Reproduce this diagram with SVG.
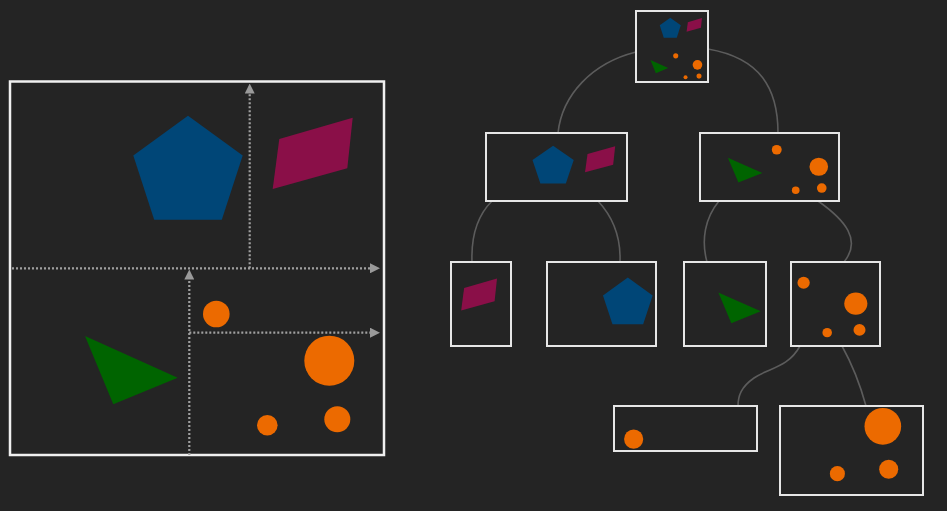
<svg xmlns="http://www.w3.org/2000/svg" xmlns:xlink="http://www.w3.org/1999/xlink" width="947" height="511" viewBox="0 0 947 511">
<style>
.bg{fill:#242424}
.box{fill:none;stroke:#e6e6e6;stroke-width:2}
.panel{fill:none;stroke:#f0f0f0;stroke-width:2.5}
.dot{fill:none;stroke:#a0a0a0;stroke-width:2.2;stroke-dasharray:2 2}
.edge{fill:none;stroke:#5c5c5c;stroke-width:1.6}
.pent{fill:#004677}
.para{fill:#8a0f48}
.tri{fill:#006400}
.circ{fill:#ec6a00}
</style>
<defs>
<marker id="ah" viewBox="0 0 10 10" refX="0" refY="5" markerWidth="10" markerHeight="10" markerUnits="userSpaceOnUse" orient="auto">
<path d="M0,0 L10,5 L0,10 Z" fill="#9a9a9a"/>
</marker>
<polygon id="pent" class="pent" points="188,115.7 242.7,155.4 221.8,219.7 154.2,219.7 133.3,155.4"/>
<polygon id="para" class="para" points="279.3,139 352.7,117.7 347.3,168.3 272.7,189"/>
<polygon id="tri" class="tri" points="85,336 177.7,377.7 113.3,404.3"/>
<circle id="c1" class="circ" cx="216.3" cy="314" r="13.3"/>
<circle id="c2" class="circ" cx="329.3" cy="360.7" r="25"/>
<circle id="c3" class="circ" cx="337.3" cy="419.3" r="13"/>
<circle id="c4" class="circ" cx="267.3" cy="425.3" r="10.3"/>
</defs>
<rect class="bg" x="0" y="0" width="947" height="511"/>

<g id="space">
<rect class="panel" x="10" y="81.5" width="374" height="373.5"/>
<use href="#pent"/><use href="#para"/><use href="#tri"/>
<use href="#c1"/><use href="#c2"/><use href="#c3"/><use href="#c4"/>
<path class="dot" d="M12,268.3 H370" marker-end="url(#ah)"/>
<path class="dot" d="M249.7,268.3 V93.5" marker-end="url(#ah)"/>
<path class="dot" d="M189.3,455 V279.5" marker-end="url(#ah)"/>
<path class="dot" d="M189.3,332.7 H370" marker-end="url(#ah)"/>
</g>

<g id="connectors">
<path class="edge" d="M636,52 C592,63 562,95 558,133"/>
<path class="edge" d="M708,49 C760,58 778,88 778,133"/>
<path class="edge" d="M492,201 C478,215 471,236 472,262"/>
<path class="edge" d="M598,201 C612,216 621,236 620,262"/>
<path class="edge" d="M719,201 C705,218 701,240 707,262"/>
<path class="edge" d="M818,201 C845,220 862,240 844,262"/>
<path class="edge" d="M800,346 C788,368 768,368 754,378 C741,387 738,396 738,406"/>
<path class="edge" d="M842,346 C852,364 860,384 866,406"/>
</g>

<g id="root">
<g transform="translate(636,11) scale(0.1925) translate(-10,-81)">
<use href="#pent"/><use href="#para"/><use href="#tri"/>
<use href="#c1"/><use href="#c2"/><use href="#c3"/><use href="#c4"/>
</g>
<rect class="box" x="636" y="11" width="72" height="71"/>
</g>

<g id="n-top">
<g transform="translate(486,133) scale(0.377,0.364) translate(-10,-81)">
<use href="#pent"/><use href="#para"/>
</g>
<rect class="box" x="486" y="133" width="141" height="68"/>
</g>

<g id="n-bottom">
<g transform="translate(700,133) scale(0.372,0.364) translate(-10,-268)">
<use href="#tri"/><use href="#c1"/><use href="#c2"/><use href="#c3"/><use href="#c4"/>
</g>
<rect class="box" x="700" y="133" width="139" height="68"/>
</g>

<g id="n-tr">
<g transform="translate(451,262) scale(0.448,0.449) translate(-250,-81)">
<use href="#para"/>
</g>
<rect class="box" x="451" y="262" width="60" height="84"/>
</g>

<g id="n-tl">
<g transform="translate(547,262) scale(0.454,0.449) translate(-10,-81)">
<use href="#pent"/>
</g>
<rect class="box" x="547" y="262" width="109" height="84"/>
</g>

<g id="n-bl">
<g transform="translate(684,262) scale(0.458,0.449) translate(-10,-268)">
<use href="#tri"/>
</g>
<rect class="box" x="684" y="262" width="82" height="84"/>
</g>

<g id="n-br">
<g transform="translate(791,262) scale(0.462,0.449) translate(-189,-268)">
<use href="#c1"/><use href="#c2"/><use href="#c3"/><use href="#c4"/>
</g>
<rect class="box" x="791" y="262" width="89" height="84"/>
</g>

<g id="n-br-top">
<g transform="translate(614,406) scale(0.72) translate(-189,-268)">
<use href="#c1"/>
</g>
<rect class="box" x="614" y="406" width="143" height="45"/>
</g>

<g id="n-br-bottom">
<g transform="translate(780,406) scale(0.733) translate(-189,-333)">
<use href="#c2"/><use href="#c3"/><use href="#c4"/>
</g>
<rect class="box" x="780" y="406" width="143" height="89"/>
</g>
</svg>
